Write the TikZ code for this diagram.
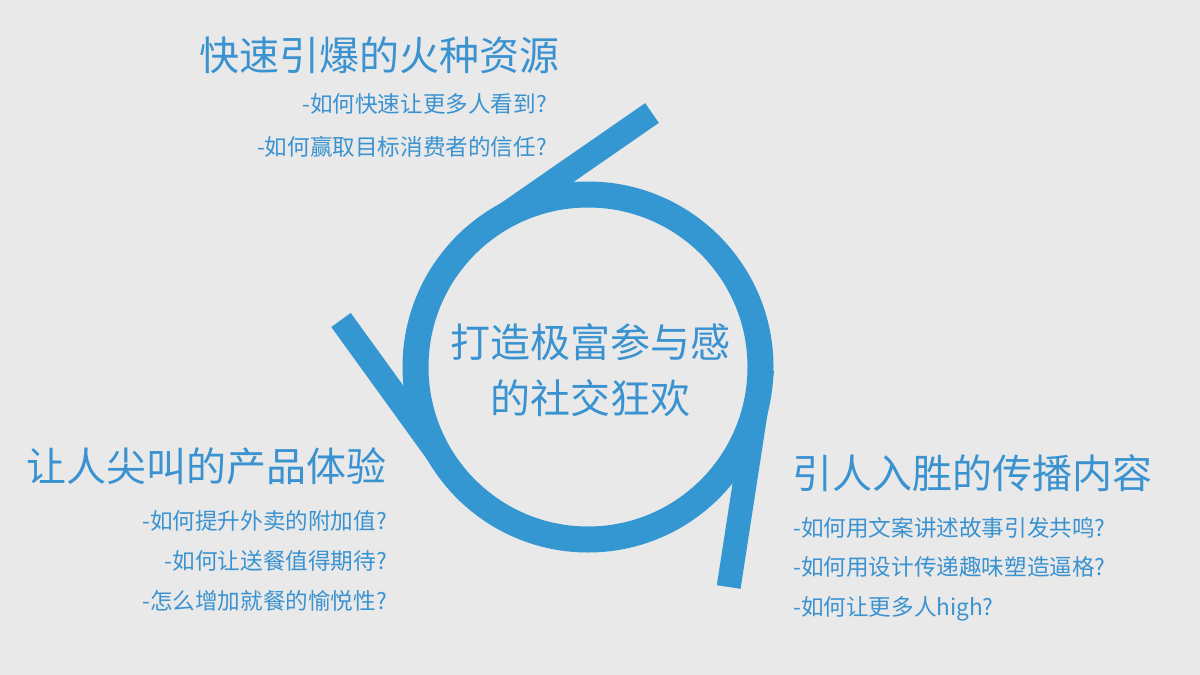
\documentclass[tikz,border=0pt]{standalone}
\usepackage{fontspec}
\setmainfont{Noto Sans CJK SC}
\begin{document}
\begin{tikzpicture}[x=1pt,y=-1pt]
\definecolor{bg}{RGB}{233,233,233}
\definecolor{ringblue}{RGB}{52,151,210}
\definecolor{txtblue}{RGB}{58,147,208}
\tikzset{
  ring/.style={draw=ringblue, line width=26pt},
  tail/.style={draw=ringblue, line width=24pt},
  titletext/.style={text=txtblue, font=\fontsize{40}{48}\selectfont, inner sep=0pt},
  question/.style={text=txtblue, font=\fontsize{22.6}{27}\selectfont, inner sep=0pt},
}
\fill[bg] (0,0) rectangle (1200,675);
\useasboundingbox (0,0) rectangle (1200,675);

% ring
\coordinate (c) at (588,367);
\draw[ring] (c) circle[radius=172.5];

% tails
\coordinate (p1) at (652,113);
\coordinate (t1) at (490,225.2);
\coordinate (p2) at (341,320);
\coordinate (t2) at (448.2,468.1);
\coordinate (p3) at (728.7,587);
\coordinate (t3) at (762.3,369.2);
\draw[tail] (p1) -- (t1);
\draw[tail] (p2) -- (t2);
\draw[tail] (p3) -- (t3);

% centre text
\node[titletext, anchor=base] (core1) at (590,357) {打造极富参与感};
\node[titletext, anchor=base] (core2) at (590,413) {的社交狂欢};

% top group
\node[titletext, anchor=base] (topt) at (379,70) {快速引爆的火种资源};
\node[question, anchor=base east] (topq1) at (547,112) {-如何快速让更多人看到?};
\node[question, anchor=base east] (topq2) at (547,155) {-如何赢取目标消费者的信任?};

% left group
\node[titletext, anchor=base] (leftt) at (207,481) {让人尖叫的产品体验};
\node[question, anchor=base east] (leftq1) at (387,529) {-如何提升外卖的附加值?};
\node[question, anchor=base east] (leftq2) at (387,569) {-如何让送餐值得期待?};
\node[question, anchor=base east] (leftq3) at (387,609) {-怎么增加就餐的愉悦性?};

% right group
\node[titletext, anchor=base] (rightt) at (972,488) {引人入胜的传播内容};
\node[question, anchor=base west] (rightq1) at (793,536) {-如何用文案讲述故事引发共鸣?};
\node[question, anchor=base west] (rightq2) at (793,575) {-如何用设计传递趣味塑造逼格?};
\node[question, anchor=base west] (rightq3) at (793,615) {-如何让更多人high?};
\end{tikzpicture}
\end{document}
